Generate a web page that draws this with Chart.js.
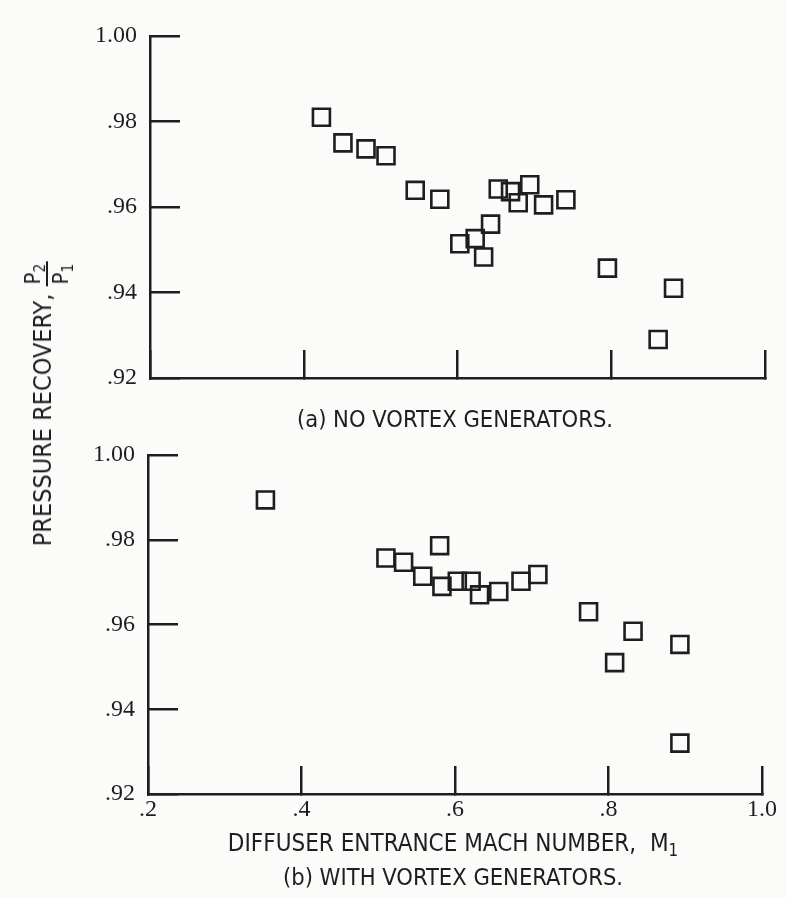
<!DOCTYPE html>
<html>
<head>
<meta charset="utf-8">
<script src="https://cdn.jsdelivr.net/npm/chart.js@4.4.1/dist/chart.umd.min.js"></script>
<style>
  html, body { margin: 0; padding: 0; background: #fbfbfa; }
  #wrap { position: relative; width: 787px; height: 898px; overflow: hidden; }
  canvas { position: absolute; left: 0; }
  .lbl { position: absolute; white-space: nowrap; color: #1e1e1e;
         font-family: "Liberation Sans Narrow", "DejaVu Sans Condensed", "Roboto Condensed", sans-serif;
         font-size: 23.5px; transform: translate(-50%, -50%); }
  .sub { font-size: 0.7em; position: relative; top: 0.3em; }
  #ytitle { transform: translate(-50%, -50%) rotate(-90deg); font-size: 25px; }
  .frac { display: inline-block; vertical-align: middle; text-align: center; line-height: 1; font-size: 22px; position: relative; top: 3px; }
  .frac .num { display: block; border-bottom: 2px solid #1e1e1e; padding: 0 2px 2px 2px; }
  .frac .den { display: block; padding-top: 2px; }
</style>
</head>
<body>
<div id="wrap">
  <canvas id="top" width="787" height="400" style="top:0px"></canvas>
  <canvas id="bot" width="787" height="400" style="top:430px"></canvas>
  <div class="lbl" style="left:455px; top:419px;">(a) NO VORTEX GENERATORS.</div>
  <div class="lbl" style="left:453px; top:843px; font-size:24px;">DIFFUSER ENTRANCE MACH NUMBER, &nbsp;M<span class="sub">1</span></div>
  <div class="lbl" style="left:453px; top:877px;">(b) WITH VORTEX GENERATORS.</div>
  <div class="lbl" id="ytitle" style="left:44px; top:404px;">PRESSURE RECOVERY, <span class="frac"><span class="num">P<span class="sub">2</span></span><span class="den">P<span class="sub">1</span></span></span></div>
</div>
<script>
// Data
const machNoVG = [0.423, 0.451, 0.481, 0.507, 0.545, 0.577, 0.603, 0.623, 0.634, 0.643, 0.653, 0.669, 0.679, 0.694, 0.712, 0.741, 0.795, 0.881, 0.861];
const recoveryNoVG = [0.981, 0.975, 0.9736, 0.972, 0.9639, 0.9618, 0.9514, 0.9526, 0.9483, 0.956, 0.9642, 0.9636, 0.961, 0.9652, 0.9605, 0.9617, 0.9457, 0.941, 0.929];

const machVG = [0.353, 0.580, 0.510, 0.533, 0.558, 0.583, 0.603, 0.621, 0.632, 0.657, 0.686, 0.708, 0.774, 0.832, 0.808, 0.893, 0.893];
const recoveryVG = [0.9894, 0.9786, 0.9757, 0.9747, 0.9714, 0.969, 0.9702, 0.9702, 0.967, 0.9678, 0.9702, 0.9718, 0.963, 0.9584, 0.951, 0.9553, 0.932];

const xTicks = [0.2, 0.4, 0.6, 0.8, 1.0];
const yTicks = [0.92, 0.94, 0.96, 0.98, 1.00];

const INK = '#1e1e1e';

function pts(xs, ys) { return xs.map((x, i) => ({ x: x, y: ys[i] })); }
function fmt(v, d) { return Number(v).toFixed(d).replace(/^0/, ''); }
function noPad(s) { s.paddingTop = 0; s.paddingBottom = 0; s.paddingLeft = 0; s.paddingRight = 0; }

function makeChart(id, xs, ys, showXLabels, yWidth, pad) {
  return new Chart(document.getElementById(id), {
    type: 'scatter',
    data: {
      datasets: [{
        data: pts(xs, ys),
        pointStyle: 'rect',
        pointRadius: 12,
        pointHoverRadius: 12,
        borderWidth: 2.6,
        borderColor: INK,
        backgroundColor: 'rgba(0,0,0,0)'
      }]
    },
    options: {
      responsive: false,
      animation: false,
      events: [],
      layout: { padding: pad },
      plugins: { legend: { display: false }, tooltip: { enabled: false } },
      scales: {
        x: {
          type: 'linear',
          min: xTicks[0], max: xTicks[xTicks.length - 1],
          afterBuildTicks: (s) => { s.ticks = xTicks.map(v => ({ value: v })); },
          afterFit: (s) => { s.height = showXLabels ? 30 : 0; noPad(s); },
          grid: { drawOnChartArea: false, drawTicks: true, tickLength: -28, color: INK, lineWidth: 2.5 },
          border: { display: true, color: INK, width: 2.5 },
          ticks: {
            display: showXLabels,
            padding: 29,
            color: INK,
            font: { family: '"Liberation Serif", "DejaVu Serif", serif', size: 24 },
            callback: (v) => fmt(v, 1)
          }
        },
        y: {
          type: 'linear',
          min: yTicks[0], max: yTicks[yTicks.length - 1],
          afterBuildTicks: (s) => { s.ticks = yTicks.map(v => ({ value: v })); },
          afterFit: (s) => { s.width = yWidth; noPad(s); },
          grid: { drawOnChartArea: false, drawTicks: true, tickLength: -30, color: INK, lineWidth: 2.5 },
          border: { display: true, color: INK, width: 2.5 },
          ticks: {
            padding: 43,
            color: INK,
            font: { family: '"Liberation Serif", "DejaVu Serif", serif', size: 24 },
            callback: (v) => fmt(v, 2)
          }
        }
      }
    }
  });
}

makeChart('top', machNoVG, recoveryNoVG, false, 150, { top: 36, right: 22, bottom: 22, left: 0 });
makeChart('bot', machVG, recoveryVG, true, 148, { top: 25, right: 25, bottom: 6, left: 0 });
</script>
</body>
</html>
